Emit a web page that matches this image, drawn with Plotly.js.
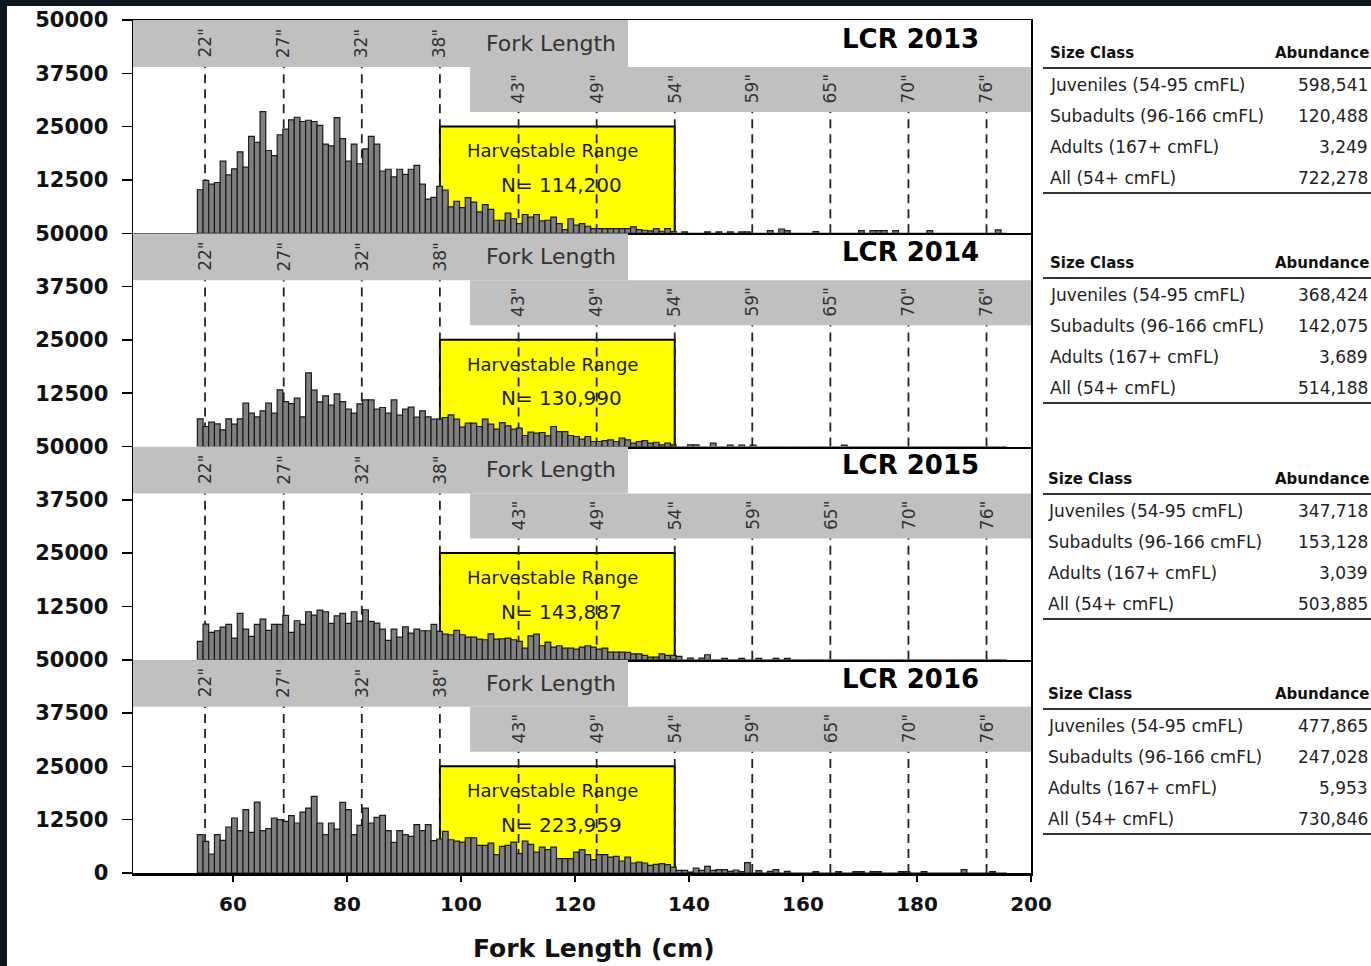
<!DOCTYPE html>
<html><head><meta charset="utf-8">
<script src="https://cdn.plot.ly/plotly-3.0.1.min.js"></script>
<style>html,body{margin:0;padding:0;background:#fff}#chart{width:1371px;height:966px}</style>
</head><body><div id="chart"></div>
<script>
// ---------------- DATA ----------------
const fl_cm = [54,55,56,57,58,59,60,61,62,63,64,65,66,67,68,69,70,71,72,73,74,75,76,77,78,79,80,81,82,83,84,85,86,87,88,89,90,91,92,93,94,95,96,97,98,99,
100,101,102,103,104,105,106,107,108,109,110,111,112,113,114,115,116,117,118,119,120,121,122,123,124,125,126,127,128,129,130,131,132,133,134,135,136,137,
138,139,140,141,142,143,144,145,146,147,148,149,150,151,152,153,154,155,156,157,158,159,160,161,162,163,164,165,166,167,168,169,170,171,172,173,174,175,176,177,
178,179,180,181,182,183,184,185,186,187,188,189,190,191,192,193,194,195];

const n2013 = [10200,12400,11500,11900,16900,13700,15100,19100,15500,22700,21300,28500,19400,18200,23100,24400,26600,27200,26200,26500,26200,25300,20900,20500,27100,22200,16900,20900,16300,19800,22700,20900,14600,15000,13200,15000,13800,15000,15900,11500,8000,8400,11000,10100,6200,7500,
6000,8350,7300,5000,6700,5600,3050,3050,4750,3400,2260,4400,3800,4400,2900,3050,3800,2260,860,3400,1900,2260,1640,1100,1100,1100,1100,1100,1100,1100,1500,860,700,550,1100,470,1100,400,
0,300,0,0,0,300,0,300,0,300, 0,300,300,0,0,0,600,0,1000,600, 0,0,0,0,400,0,0,0,0,0, 0,0,600,0,600,600,600,0,600,0, 0,0,0,0,600,0,0,0,0,0, 0,0,0,0,0,0,800,0];

const n2014 = [6480,4690,5700,5310,3900,6480,5230,6480,10150,7810,6950,8360,10150,7810,13280,10540,10075,11325,6950,17260,13200,10470,11870,9680,12340,10540,8750,7810,10000,10930,10930,8750,9140,7810,10930,7340,8750,9220,6870,8360,6950,6400,6400,6800,
7400,6400,4530,5470,5470,4690,6400,5230,4060,5620,4840,4060,4300,2580,3360,3120,3280,2500,4690,3500,3500,2580,2340,1720,2340,1170,1170,1400,1560,1170,1950,1560,780,1170,1400,780,1000,400,780,400,
0,0,400,400,0,0,780,0,0,300, 0,300,0,300,0,0,0,0,0,0, 0,0,0,0,0,0,0,0,0,300, 0,0,0,0,0,0,0,0,0,0, 0,0,0,0,0,0,0,0,0,0, 0,0,0,0,0,0,0,0];

const n2015 = [4300,8360,6400,6800,7650,8280,5080,10860,7190,5470,8280,9530,6870,8280,8280,10390,6400,9140,8280,11250,10470,11640,11250,8510,10310,10860,8510,11250,9060,11720,8980,8590,7190,4530,7190,5310,7730,6250,7190,6800,6800,8280,6640,6000,
5860,6870,5860,5310,5310,4840,4690,6090,4840,4920,5080,4690,4300,2730,5620,6010,3280,4140,2970,3280,2730,2730,2500,2970,3280,2970,2500,2730,1800,1800,1800,1720,1400,1400,1010,620,620,1400,1010,1010,780,
0,400,0,400,1170,0,0,300,0, 0,300,0,0,300,0,0,300,0,300,
0,0,0,0,0,0,0,0,0,0, 0,0,0,0,0,0,0,0,0,0, 0,0,0,0,0,0,0,0,0,0, 0,0,0,0,0,0,0,0];

const n2016 = [8980,7420,4450,8980,7650,10780,12890,9920,14840,9530,16640,9920,10390,12890,12500,12110,13430,11720,14290,15230,17960,11720,8980,11720,10310,16560,14840,8980,11170,15230,11720,13040,13510,9920,7190,9920,8980,8590,11320,9920,11320,7580,7970,9760,
7800,7490,7250,8270,8270,6470,6470,7020,4290,6240,6470,7250,4520,7490,6710,4910,6080,5460,6080,3350,3350,3350,4910,5460,4290,3120,4290,4290,3740,3900,2810,3740,2340,2570,2340,1790,2030,2180,1950,1400,620,620,230,1170,620,1560,620,780,800,400,700,300,2420,
0,550,0,400,780,0,400,0,0,0, 0,300,0,0,0,300,0,0,300,300, 0,300,300,0,0,0,300,300,0,0, 300,0,0,0,0,0,0,780,0,0, 0,0,300,0,0];

const years = ['2013','2014','2015','2016'];
const harvestN = ['114,200','130,990','143,887','223,959'];
const guideCm = [55.1,68.9,82.6,96.3,110.1,123.8,137.5,151.1,164.8,178.5,192.2];
const guideLabel = ['22"','27"','32"','38"','43"','49"','54"','59"','65"','70"','76"'];
const sizeClass = ['Juveniles (54-95 cmFL)','Subadults (96-166 cmFL)','Adults (167+ cmFL)','All (54+ cmFL)'];
const abund2013 = [598541,120488,3249,722278];
const abund2014 = [368424,142075,3689,514188];
const abund2015 = [347718,153128,3039,503885];
const abund2016 = [477865,247028,5953,730846];
const yTicks = [0,12500,25000,37500,50000];
const xTicks = [60,80,100,120,140,160,180,200];

// ---------------- LAYOUT ----------------
const series = [n2013,n2014,n2015,n2016];
const abund = [abund2013,abund2014,abund2015,abund2016];
const L=133, R=1031, T=20, B=873;
const PW=R-L, PH=B-T;
const XMIN=42.46, XMAX=200;
const pxX = px => (px-L)/PW;
const pxY = py => (B-py)/PH;
const FONT = 'DejaVu Sans';

const traces = [];
const layout = {
  width:1371, height:966,
  margin:{l:L, r:1371-R, t:T, b:966-B, pad:0},
  paper_bgcolor:'#ffffff', plot_bgcolor:'#ffffff',
  showlegend:false, bargap:0,
  font:{family:FONT, color:'#111'},
  shapes:[], annotations:[]
};

for (let i=0;i<4;i++){
  const sx = i ? String(i+1) : '';
  const xa='x'+sx, ya='y'+sx;
  traces.push({
    type:'bar', x:fl_cm, y:series[i], xaxis:xa, yaxis:ya,
    width:1, offset:-0.25,
    marker:{color:'#808080', line:{color:'#1a1a1a', width:1.2}},
    hoverinfo:'skip'
  });
  const tv = i===3 ? yTicks : yTicks.slice(1);
  layout['yaxis'+sx] = {
    domain:[1-(i+1)*0.25, 1-i*0.25], range:[0,50000], anchor:xa,
    tickmode:'array', tickvals:tv, ticktext:tv.map(String),
    ticks:'outside', ticklen:10, tickwidth:1.5, tickcolor:'#000',
    ticklabelstandoff:9,
    tickfont:{family:FONT, size:21, color:'#111', weight:'bold'},
    showline:true, linecolor:'#000', linewidth:1.5, mirror:true,
    showgrid:false, zeroline:false, fixedrange:true
  };
  layout['xaxis'+sx] = {
    domain:[0,1], range:[XMIN,XMAX], anchor:ya,
    showline:true, linecolor:'#000', linewidth: i===0 ? 1.5 : 2.5, mirror: i===0,
    showgrid:false, zeroline:false, fixedrange:true,
    showticklabels: i===3, ticks: i===3 ? 'outside' : '',
    ticklen:6, tickwidth:1.5, tickcolor:'#000',
    ticklabelstandoff:5,
    tickmode:'array', tickvals:xTicks, ticktext:xTicks.map(String),
    tickfont:{family:FONT, size:20, color:'#111', weight:'bold'}
  };

  // grey bands
  layout.shapes.push({type:'rect', xref:xa, yref:ya, x0:XMIN, x1:129.3, y0:39000, y1:50000,
    fillcolor:'#c0c0c0', line:{width:0}, layer:'below'});
  layout.shapes.push({type:'rect', xref:xa, yref:ya, x0:101.6, x1:XMAX, y0:28400, y1:39000,
    fillcolor:'#c0c0c0', line:{width:0}, layer:'below'});
  // harvestable range box
  layout.shapes.push({type:'rect', xref:xa, yref:ya, x0:96.3, x1:137.5, y0:0, y1:25000,
    fillcolor:'#ffff00', line:{color:'#000', width:2}, layer:'below'});
  // dashed guide lines + labels
  guideCm.forEach((g,j)=>{
    const top = j<4 ? 39000 : 28400;
    layout.shapes.push({type:'line', xref:xa, yref:ya, x0:g, x1:g, y0:0, y1:top,
      line:{color:'#222', width:1.8, dash:'9px,6px'}, layer:'below'});
    layout.annotations.push({xref:xa, yref:ya, x:g, y: j<4 ? 44500 : 33800,
      text:guideLabel[j], textangle:-90, showarrow:false,
      font:{family:FONT, size:17, color:'#333'}, xanchor:'center', yanchor:'middle'});
  });
  layout.annotations.push({xref:xa, yref:ya, x:115.8, y:44500, text:'Fork Length', showarrow:false,
    font:{family:FONT, size:22, color:'#333'}, xanchor:'center', yanchor:'middle'});
  layout.annotations.push({xref:xa, yref:ya, x:178.9, y:45600, text:'LCR '+years[i], showarrow:false,
    font:{family:FONT, size:26, color:'#000', weight:'bold'}, xanchor:'center', yanchor:'middle'});
  layout.annotations.push({xref:xa, yref:ya, x:116.1, y:19300, text:'Harvestable Range', showarrow:false,
    font:{family:FONT, size:18, color:'#1a1a1a'}, xanchor:'center', yanchor:'middle'});
  layout.annotations.push({xref:xa, yref:ya, x:117.6, y:11300, text:'N= '+harvestN[i], showarrow:false,
    font:{family:FONT, size:20, color:'#1a1a1a'}, xanchor:'center', yanchor:'middle'});

  // table
  const hy = [53,263,479,694][i];
  const lx = [1048,1048,1046,1046][i];
  layout.annotations.push({xref:'paper', yref:'paper', x:pxX(lx), y:pxY(hy), text:'Size Class', showarrow:false,
    font:{family:FONT, size:15, color:'#111', weight:'bold'}, xanchor:'left', yanchor:'middle'});
  layout.annotations.push({xref:'paper', yref:'paper', x:pxX(1371), y:pxY(hy), text:'Abundance', showarrow:false,
    font:{family:FONT, size:15, color:'#111', weight:'bold'}, xanchor:'right', yanchor:'middle'});
  const offs=[32,63,94,125];
  sizeClass.forEach((s,k)=>{
    layout.annotations.push({xref:'paper', yref:'paper', x:pxX(lx), y:pxY(hy+offs[k]), text:s, showarrow:false,
      font:{family:FONT, size:17, color:'#222'}, xanchor:'left', yanchor:'middle'});
    layout.annotations.push({xref:'paper', yref:'paper', x:pxX(1370), y:pxY(hy+offs[k]), text:abund[i][k].toLocaleString('en-US'), showarrow:false,
      font:{family:FONT, size:17, color:'#222'}, xanchor:'right', yanchor:'middle'});
  });
  [hy+15, hy+140].forEach(ly=>{
    layout.shapes.push({type:'line', xref:'paper', yref:'paper', x0:pxX(1043), x1:pxX(1375), y0:pxY(ly), y1:pxY(ly),
      line:{color:'#333', width:2}});
  });
}

// x axis title
layout.annotations.push({xref:'paper', yref:'paper', x:pxX(594), y:pxY(948), text:'Fork Length (cm)', showarrow:false,
  font:{family:FONT, size:25, color:'#111', weight:'bold'}, xanchor:'center', yanchor:'middle'});

// dark frame strips (top and left)
layout.shapes.push({type:'rect', xref:'paper', yref:'paper', x0:pxX(-2), x1:pxX(7), y0:pxY(970), y1:pxY(-2),
  fillcolor:'#0c1620', line:{width:0}, layer:'above'});
layout.shapes.push({type:'rect', xref:'paper', yref:'paper', x0:pxX(-2), x1:pxX(1375), y0:pxY(6), y1:pxY(-2),
  fillcolor:'#0c1620', line:{width:0}, layer:'above'});

Plotly.newPlot('chart', traces, layout, {displayModeBar:false, staticPlot:true});
</script>
</body></html>
